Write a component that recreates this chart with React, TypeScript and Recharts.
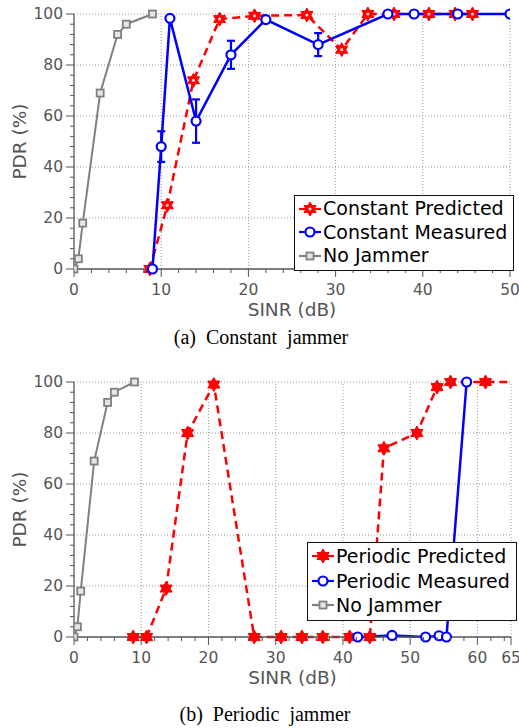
import React from "react";
import {
  LineChart,
  Line,
  XAxis,
  YAxis,
  ReferenceLine,
  ErrorBar,
  Legend,
} from "recharts";

// --- Constant jammer (a) ---
const noJammerSinr = [0, 0.5, 1, 3, 5, 6, 9];
const noJammerPdr = [0, 4, 18, 69, 92, 96, 100];

const constPredSinr = [8.7, 10.7, 13.7, 16.7, 20.7, 26.7, 30.7, 33.7, 36.7, 40.7, 43.7, 45.7];
const constPredPdr = [0, 25, 74, 98, 99.3, 99.6, 86, 100, 100, 100, 100, 100];

const constMeasSinr = [9, 10, 11, 14, 18, 22, 28, 36, 39, 44, 50];
const constMeasPdr = [0, 48, 98.3, 58, 84, 97.8, 88, 100, 100, 100, 100];
const constMeasErr = [0, 6, 0, 8.5, 5.5, 1.2, 4.5, 0, 0, 0, 0];

// --- Periodic jammer (b) ---
const perPredSinr = [8.8, 10.8, 13.7, 16.9, 20.8, 26.8, 30.8, 33.9, 37, 41, 44, 46.1, 51, 54, 56, 61.2, 66];
const perPredPdr = [0, 0, 19, 80, 99, 0, 0, 0, 0, 0, 0, 74, 80, 98, 100, 100, 100];

const perMeasSinr = [42.2, 47.3, 52.3, 54.3, 55.4, 58.4];
const perMeasPdr = [0, 0.6, 0, 0.5, 0, 100];

const pdrMajor = [0, 20, 40, 60, 80, 100];
const constSinrMajor = [0, 10, 20, 30, 40, 50];
const perSinrMajor = [0, 10, 20, 30, 40, 50, 60, 65];

const RED = "#ff0000";
const BLUE = "#0000ff";
const GRAY = "#808080";
const AXIS = "#555555";
const FONT = "'DejaVu Sans', sans-serif";

const steps = (max: number, step: number, extra: number[] = []) => {
  const out: number[] = [];
  for (let v = 0; v <= max + 1e-9; v += step) out.push(v);
  return [...out, ...extra];
};

const toRows = (xs: number[], ys: number[], errs?: number[]) =>
  xs.map((x, i) => ({ sinr: x, pdr: ys[i], err: errs ? errs[i] : 0 }));

function hexagram(cx: number, cy: number, r: number) {
  const pts: string[] = [];
  for (let k = 0; k < 12; k++) {
    const ang = ((-90 + k * 30) * Math.PI) / 180;
    const rad = k % 2 === 0 ? r : r * 0.577;
    pts.push(`${cx + rad * Math.cos(ang)},${cy + rad * Math.sin(ang)}`);
  }
  return pts.join(" ");
}

function Star({ cx, cy, hollow }: { cx: number; cy: number; hollow?: boolean }) {
  return (
    <g>
      <polygon points={hexagram(cx, cy, 7)} fill={RED} stroke={RED} strokeWidth={1} />
      {hollow && <circle cx={cx} cy={cy} r={1.6} fill="#ffd0d0" />}
    </g>
  );
}

function Ring({ cx, cy }: { cx: number; cy: number }) {
  return <circle cx={cx} cy={cy} r={4.5} fill="#fff" stroke={BLUE} strokeWidth={2.2} />;
}

function Square({ cx, cy }: { cx: number; cy: number }) {
  return <rect x={cx - 3.5} y={cy - 3.5} width={7} height={7} fill="#e6e6e6" stroke={GRAY} strokeWidth={1.8} />;
}

function starDot(maxX: number, hollow: boolean) {
  return (p: any) => {
    if (p.cx == null || p.payload.sinr > maxX) return <g key={p.key} />;
    return <Star key={p.key} cx={p.cx} cy={p.cy} hollow={hollow} />;
  };
}

function ringDot(p: any) {
  if (p.cx == null) return <g key={p.key} />;
  return <Ring key={p.key} cx={p.cx} cy={p.cy} />;
}

function squareDot(p: any) {
  if (p.cx == null) return <g key={p.key} />;
  return <Square key={p.key} cx={p.cx} cy={p.cy} />;
}

function XTick({ x, y, payload, majors }: any) {
  const major = majors.includes(payload.value);
  return (
    <g>
      <line x1={x} x2={x} y1={y} y2={y + (major ? 8 : 4)} stroke={AXIS} strokeWidth={1} />
      {major && (
        <text x={x} y={y + 21} textAnchor="middle" dominantBaseline="central" fontSize={15.5} fill={AXIS} fontFamily={FONT}>
          {payload.value}
        </text>
      )}
    </g>
  );
}

function YTick({ x, y, payload }: any) {
  const major = pdrMajor.includes(payload.value);
  return (
    <g>
      <line x1={x} x2={x - (major ? 8 : 4)} y1={y} y2={y} stroke={AXIS} strokeWidth={1} />
      {major && (
        <text x={x - 11} y={y} textAnchor="end" dominantBaseline="central" fontSize={15.5} fill={AXIS} fontFamily={FONT}>
          {payload.value}
        </text>
      )}
    </g>
  );
}

type Kind = "star" | "starHollow" | "ring" | "square";

function LegendBox({
  items,
  rowHeight,
}: {
  items: { label: string; kind: Kind; color: string }[];
  rowHeight: number;
}) {
  return (
    <div
      style={{
        border: "1.5px solid #111",
        background: "#fff",
        padding: "1px 6px 2px 2px",
        fontFamily: FONT,
        fontSize: 19,
        lineHeight: rowHeight + "px",
        color: "#000",
        whiteSpace: "nowrap",
      }}
    >
      {items.map((it) => (
        <div key={it.label} style={{ display: "flex", alignItems: "center" }}>
          <svg width={26} height={18} style={{ flex: "none" }}>
            <line x1={2} x2={24} y1={9} y2={9} stroke={it.color} strokeWidth={2.2} />
            {it.kind === "star" && <Star cx={13} cy={9} />}
            {it.kind === "starHollow" && <Star cx={13} cy={9} hollow />}
            {it.kind === "ring" && <Ring cx={13} cy={9} />}
            {it.kind === "square" && <Square cx={13} cy={9} />}
          </svg>
          <span>{it.label}</span>
        </div>
      ))}
    </div>
  );
}

function PdrChart({
  xMax,
  xMajor,
  right,
  legend,
  legendPos,
  children,
}: {
  xMax: number;
  xMajor: number[];
  right: number;
  legend: React.ReactNode;
  legendPos: { left: number; top: number };
  children: React.ReactNode;
}) {
  const xTicks = steps(xMax - (xMax % 2), 2, xMax % 2 ? [xMax] : []);
  return (
    <LineChart width={519} height={320} margin={{ top: 14, right, bottom: 1, left: 0 }}>
      {xMajor.filter((v) => v > 0).map((v) => (
        <ReferenceLine key={"gx" + v} x={v} stroke="#999" strokeDasharray="1 2" strokeWidth={1} />
      ))}
      {pdrMajor.filter((v) => v > 0).map((v) => (
        <ReferenceLine key={"gy" + v} y={v} stroke="#999" strokeDasharray="1 2" strokeWidth={1} />
      ))}
      <XAxis
        type="number"
        dataKey="sinr"
        domain={[0, xMax]}
        allowDataOverflow
        ticks={xTicks}
        interval={0}
        tickSize={0}
        tickMargin={0}
        tickLine={false}
        tick={<XTick majors={xMajor} />}
        height={50}
        stroke={AXIS}
        strokeWidth={1.3}
        label={{ value: "SINR (dB)", position: "insideBottom", offset: 3, fill: AXIS, fontSize: 18.5, fontFamily: FONT }}
      />
      <YAxis
        type="number"
        domain={[0, 100]}
        ticks={steps(100, 4)}
        interval={0}
        tickSize={0}
        tickMargin={0}
        tickLine={false}
        tick={<YTick />}
        width={74}
        stroke={AXIS}
        strokeWidth={1.3}
        label={{
          value: "PDR (%)",
          angle: -90,
          position: "insideLeft",
          offset: 19,
          fill: AXIS,
          fontSize: 18.5,
          fontFamily: FONT,
          style: { textAnchor: "middle" },
        }}
      />
      {children}
      <Legend
        layout="horizontal"
        verticalAlign="middle"
        align="center"
        content={() => legend}
        wrapperStyle={{ left: legendPos.left, top: legendPos.top, width: "auto", height: "auto" }}
      />
    </LineChart>
  );
}

const captionStyle: React.CSSProperties = {
  position: "absolute",
  left: 0,
  textAlign: "center",
  fontFamily: "'Liberation Serif', serif",
  fontSize: 20,
  lineHeight: "23px",
  wordSpacing: 5,
  color: "#000",
};

export default function App() {
  return (
    <div style={{ position: "relative", width: 519, height: 728, background: "#fff", fontFamily: FONT }}>
      <style>{"body{margin:0;background:#fff}"}</style>
      <div style={{ position: "absolute", left: 0, top: 0 }}>
        <PdrChart
          xMax={50}
          xMajor={constSinrMajor}
          right={9}
          legendPos={{ left: 294, top: 195 }}
          legend={
            <LegendBox
              rowHeight={23.5}
              items={[
                { label: "Constant Predicted", kind: "starHollow", color: RED },
                { label: "Constant Measured", kind: "ring", color: BLUE },
                { label: "No Jammer", kind: "square", color: GRAY },
              ]}
            />
          }
        >
          <Line
            data={toRows(constPredSinr, constPredPdr)}
            dataKey="pdr"
            stroke={RED}
            strokeWidth={2.5}
            strokeDasharray="8 5"
            dot={starDot(50, true)}
            isAnimationActive={false}
          />
          <Line
            data={toRows(constMeasSinr, constMeasPdr, constMeasErr)}
            dataKey="pdr"
            stroke={BLUE}
            strokeWidth={2.5}
            dot={ringDot}
            isAnimationActive={false}
          >
            <ErrorBar dataKey="err" width={4} strokeWidth={2.2} stroke={BLUE} direction="y" />
          </Line>
          <Line
            data={toRows(noJammerSinr, noJammerPdr)}
            dataKey="pdr"
            stroke={GRAY}
            strokeWidth={2}
            dot={squareDot}
            isAnimationActive={false}
          />
        </PdrChart>
      </div>
      <div style={{ ...captionStyle, top: 326, width: 522 }}>(a) Constant jammer</div>

      <div style={{ position: "absolute", left: 0, top: 368 }}>
        <PdrChart
          xMax={65}
          xMajor={perSinrMajor}
          right={8}
          legendPos={{ left: 307, top: 174 }}
          legend={
            <LegendBox
              rowHeight={24.5}
              items={[
                { label: "Periodic Predicted", kind: "star", color: RED },
                { label: "Periodic Measured", kind: "ring", color: BLUE },
                { label: "No Jammer", kind: "square", color: GRAY },
              ]}
            />
          }
        >
          <Line
            data={toRows(perPredSinr, perPredPdr)}
            dataKey="pdr"
            stroke={RED}
            strokeWidth={2.5}
            strokeDasharray="8 5"
            dot={starDot(65, false)}
            isAnimationActive={false}
          />
          <Line
            data={toRows(perMeasSinr, perMeasPdr)}
            dataKey="pdr"
            stroke={BLUE}
            strokeWidth={2.5}
            dot={ringDot}
            isAnimationActive={false}
          />
          <Line
            data={toRows(noJammerSinr, noJammerPdr)}
            dataKey="pdr"
            stroke={GRAY}
            strokeWidth={2}
            dot={squareDot}
            isAnimationActive={false}
          />
        </PdrChart>
      </div>
      <div style={{ ...captionStyle, top: 703, width: 530 }}>(b) Periodic jammer</div>
    </div>
  );
}
